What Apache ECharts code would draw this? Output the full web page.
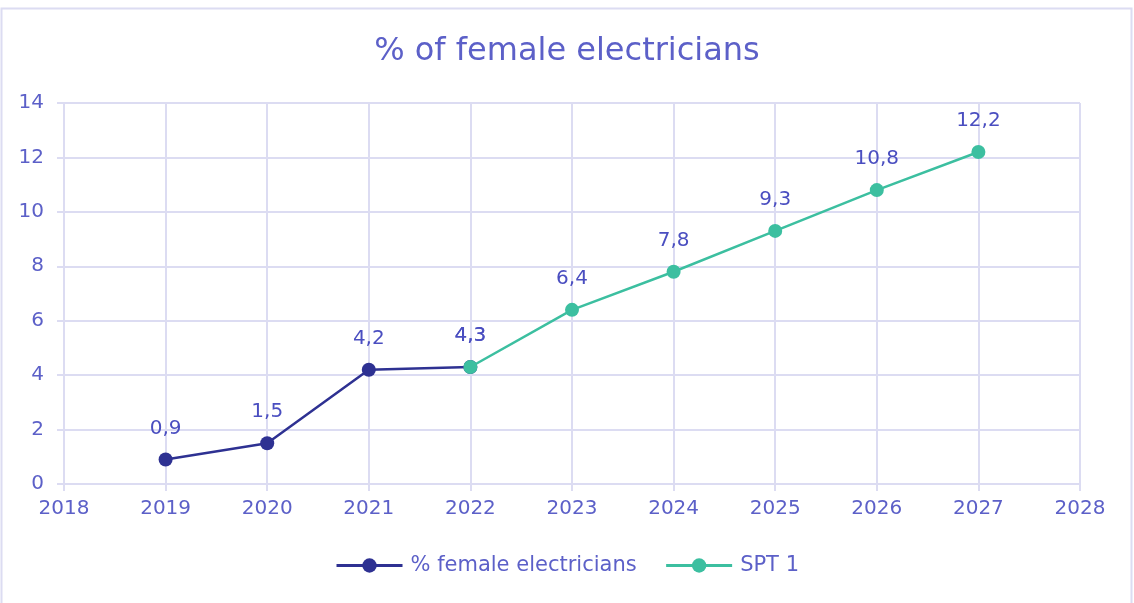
<!DOCTYPE html>
<html><head><meta charset="utf-8">
<script src="https://cdn.jsdelivr.net/npm/echarts@6/dist/echarts.min.js"></script>
<style>html,body{margin:0;padding:0;background:#fff}#c{width:1134px;height:603px}</style>
</head><body><div id="c"></div>
<script>
var titleText = '% of female electricians';
var seriesNames = ['% female electricians', 'SPT 1'];
var actualYears = [2019, 2020, 2021, 2022];
var actualValues = [0.9, 1.5, 4.2, 4.3];
var targetYears = [2022, 2023, 2024, 2025, 2026, 2027];
var targetValues = [4.3, 6.4, 7.8, 9.3, 10.8, 12.2];

var FONT = 'DejaVu Sans';
var labelColor = '#5c60c8';
var grid = '#dcdcf2';
function pairs(xs, ys){ return xs.map(function(x,i){ return [x, ys[i]]; }); }
function fmt(p){ return String(p.value[1]).replace('.', ','); }

var chart = echarts.init(document.getElementById('c'));
chart.setOption({
  animation: false,
  textStyle: {fontFamily: FONT},
  graphic: [{type:'rect', shape:{x:1.5, y:8.5, width:1130, height:600}, style:{fill:'none', stroke:'#dcdcf2', lineWidth:2}, silent:true}],
  title: {text: titleText, left: 'center', top: 31, textStyle:{fontFamily:FONT, fontSize:32, fontWeight:'normal', color:'#5c60c8'}},
  grid: {left: 64, right: 54, top: 103, bottom: 119, containLabel:false},
  legend: {bottom: 22, left:'center', itemWidth: 66, itemHeight: 18, itemGap: 28,
    lineStyle: {width: 3},
    textStyle:{fontFamily:FONT, fontSize:21, color:labelColor, padding:[0,0,0,3]},
    data: seriesNames},
  xAxis: {type:'value', min:2018, max:2028, interval:1,
    axisLine:{show:true, lineStyle:{color:grid, width:2}},
    axisTick:{show:true, length:7, lineStyle:{color:grid, width:2}},
    splitLine:{show:true, lineStyle:{color:grid, width:2}},
    axisLabel:{fontFamily:FONT, fontSize:20, color:labelColor, margin:15, formatter:function(v){return String(v);}}},
  yAxis: {type:'value', min:0, max:14, interval:2,
    axisLine:{show:true, lineStyle:{color:grid, width:2}},
    axisTick:{show:true, length:7, lineStyle:{color:grid, width:2}},
    splitLine:{show:true, lineStyle:{color:grid, width:2}},
    axisLabel:{fontFamily:FONT, fontSize:20, color:labelColor, margin:20}},
  series: [
    {name: seriesNames[0], type:'line', data: pairs(actualYears, actualValues), color:'#2e3192',
     symbol:'circle', symbolSize:14, lineStyle:{width:2.5, color:'#2e3192'}, itemStyle:{color:'#2e3192'},
     label:{show:true, position:'top', distance:14, fontFamily:FONT, fontSize:20, color:'#4a4ec0', formatter: fmt}, z:2},
    {name: seriesNames[1], type:'line', data: pairs(targetYears, targetValues), color:'#3cbfa0',
     symbol:'circle', symbolSize:14, lineStyle:{width:2.5, color:'#3cbfa0'}, itemStyle:{color:'#3cbfa0'},
     label:{show:true, position:'top', distance:14, fontFamily:FONT, fontSize:20, color:'#4a4ec0', formatter: fmt}, z:3}
  ]
});
</script></body></html>
